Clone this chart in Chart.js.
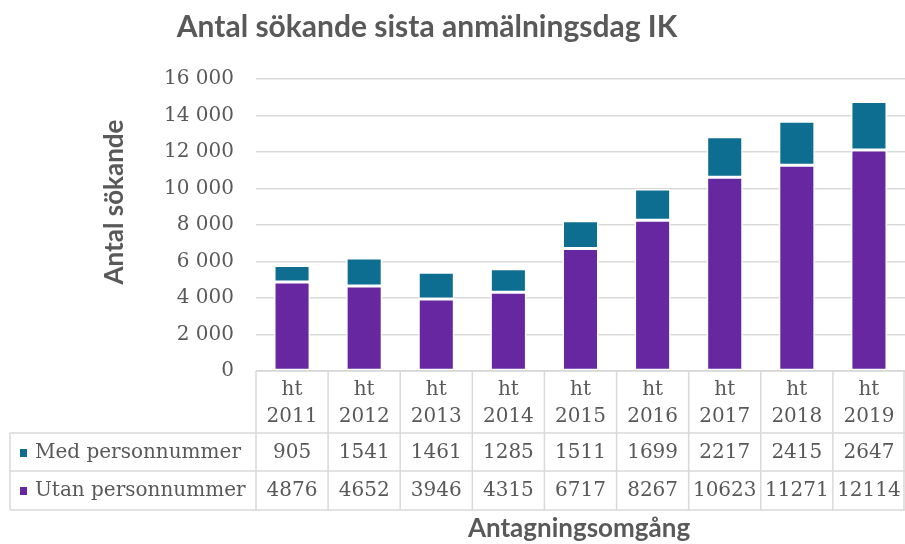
<!DOCTYPE html>
<html>
<head>
<meta charset="utf-8">
<script src="https://cdn.jsdelivr.net/npm/chart.js@4/dist/chart.umd.min.js"></script>
<style>
html,body{margin:0;padding:0;background:#fff;}
#wrap{width:905px;height:544px;position:relative;}
</style>
</head>
<body>
<div id="wrap"><canvas id="c" width="905" height="544"></canvas></div>
<script>
// ---- data ----
const categoryPrefix = ['ht','ht','ht','ht','ht','ht','ht','ht','ht'];
const categoryYears = ['2011','2012','2013','2014','2015','2016','2017','2018','2019'];
const medPersonnummer = [905, 1541, 1461, 1285, 1511, 1699, 2217, 2415, 2647];
const utanPersonnummer = [4876, 4652, 3946, 4315, 6717, 8267, 10623, 11271, 12114];
const seriesNames = ['Med personnummer', 'Utan personnummer'];
const yMax = 16000;
const yStep = 2000;
const chartTitle = 'Antal sökande sista anmälningsdag IK';
const yTitle = 'Antal sökande';
const xTitle = 'Antagningsomgång';

const labels = categoryYears.map((y, i) => categoryPrefix[i] + ' ' + y);

const TEXT = '#595959';
const GRID = '#d9d9d9';
const TEAL = '#0e6e92';
const PURPLE = '#6627a0';
const SERIF = '"DejaVu Serif", serif';
const SANS = 'Lato, "Open Sans", sans-serif';

function fmt(v) { return String(v).replace(/\B(?=(\d{3})+(?!\d))/g, ' '); }

const tablePlugin = {
  id: 'tablePlugin',
  afterDraw(chart) {
    const ctx = chart.ctx;
    const xs = chart.scales.x;
    const ca = chart.chartArea;
    const n = labels.length;
    const colW = xs.getPixelForValue(1) - xs.getPixelForValue(0);
    const edge = i => xs.getPixelForValue(0) - colW / 2 + i * colW;
    const y0 = ca.bottom, y1 = 433, y2 = 471, y3 = 510;
    const tableLeft = 10;
    const right = chart.width;

    ctx.save();
    // lines
    ctx.strokeStyle = GRID;
    ctx.lineWidth = 1.5;
    ctx.beginPath();
    ctx.moveTo(edge(0), y0); ctx.lineTo(right, y0);
    [y1, y2, y3].forEach(y => { ctx.moveTo(tableLeft, y); ctx.lineTo(right, y); });
    for (let i = 0; i <= n; i++) {
      const x = Math.min(edge(i), right - 1);
      ctx.moveTo(x, y0); ctx.lineTo(x, y3);
    }
    ctx.moveTo(tableLeft, y1); ctx.lineTo(tableLeft, y3);
    ctx.stroke();

    // header text + values
    ctx.fillStyle = TEXT;
    ctx.font = '20px ' + SERIF;
    ctx.textAlign = 'center';
    ctx.textBaseline = 'middle';
    for (let i = 0; i < n; i++) {
      const cx = xs.getPixelForValue(i);
      ctx.fillText(categoryPrefix[i], cx, 390);
      ctx.fillText(categoryYears[i], cx, 417);
      ctx.fillText(String(medPersonnummer[i]), cx, 453);
      ctx.fillText(String(utanPersonnummer[i]), cx, 491);
    }
    // row labels + legend keys
    ctx.textAlign = 'left';
    ctx.fillText(seriesNames[0], 35, 453);
    ctx.fillText(seriesNames[1], 35, 491);
    ctx.fillStyle = TEAL;
    ctx.fillRect(20, 449, 7, 8);
    ctx.fillStyle = PURPLE;
    ctx.fillRect(20, 487, 7, 8);

    // titles
    ctx.fillStyle = TEXT;
    ctx.textAlign = 'center';
    ctx.textBaseline = 'alphabetic';
    ctx.font = 'bold 30px ' + SANS;
    ctx.fillText(chartTitle, 427, 37);
    ctx.font = 'bold 26px ' + SANS;
    ctx.fillText(xTitle, 579, 537);
    ctx.translate(123, 202);
    ctx.rotate(-Math.PI / 2);
    ctx.font = 'bold 26px ' + SANS;
    ctx.fillText(yTitle, 0, 0);
    ctx.restore();
  }
};

new Chart(document.getElementById('c'), {
  type: 'bar',
  data: {
    labels: labels,
    datasets: [
      {
        label: seriesNames[1],
        data: utanPersonnummer,
        backgroundColor: PURPLE,
        borderColor: '#ffffff',
        borderWidth: 1.5,
        borderSkipped: false,
        categoryPercentage: 1,
        barPercentage: 0.5
      },
      {
        label: seriesNames[0],
        data: medPersonnummer,
        backgroundColor: TEAL,
        borderColor: '#ffffff',
        borderWidth: 1.5,
        borderSkipped: false,
        categoryPercentage: 1,
        barPercentage: 0.5
      }
    ]
  },
  options: {
    responsive: false,
    animation: false,
    devicePixelRatio: 1,
    layout: { padding: { left: 100, right: 0, top: 79, bottom: 173 } },
    plugins: {
      legend: { display: false },
      title: { display: false },
      tooltip: { enabled: false }
    },
    scales: {
      x: {
        stacked: true,
        display: false
      },
      y: {
        stacked: true,
        min: 0,
        max: yMax,
        afterFit(scale) { scale.width = 156; },
        border: { display: false },
        grid: { color: GRID, lineWidth: 1.5, drawTicks: false },
        ticks: {
          stepSize: yStep,
          padding: 22,
          color: TEXT,
          font: { family: SERIF, size: 20 },
          callback: v => fmt(v)
        }
      }
    }
  },
  plugins: [tablePlugin]
});
</script>
</body>
</html>
